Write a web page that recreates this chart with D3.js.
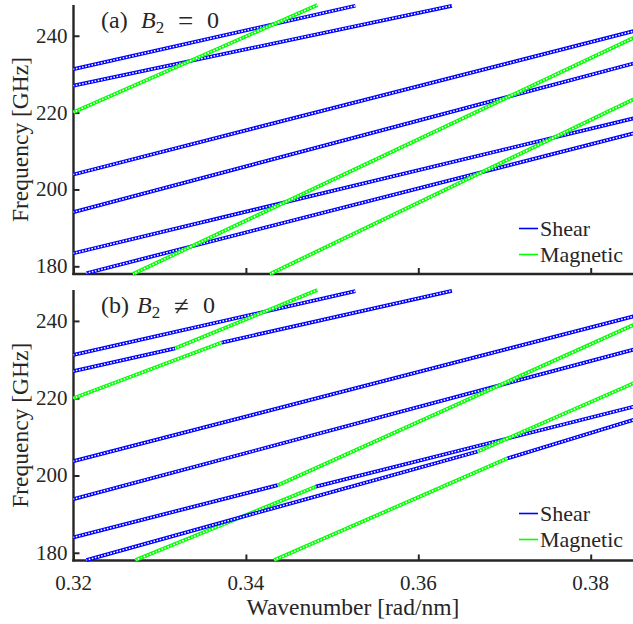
<!DOCTYPE html>
<html>
<head>
<meta charset="utf-8">
<script src="https://cdn.jsdelivr.net/npm/d3@7"></script>
<style>
  html, body { margin: 0; padding: 0; background: #fff; }
  svg { display: block; }
</style>
</head>
<body>
<svg id="chart" width="633" height="624" font-family="'Liberation Serif', 'Times New Roman', Times, serif"></svg>
<script>
// Axis limits and tick values
const kDomain = [0.32, 0.385];
const fDomain = [178, 248];
const kTicks = [0.32, 0.34, 0.36, 0.38];
const fTicks = [180, 200, 220, 240];
const modeNames = ["Shear", "Magnetic"];
const modeColors = ["#0000ff", "#00ff00"];

// Panel (a), B2 = 0: uncoupled branches, each given by its end points [k, f]
const shearA = [
  [[0.3200, 231.3], [0.3527, 247.8]],
  [[0.3200, 227.0], [0.3639, 247.8]],
  [[0.3200, 203.9], [0.3850, 241.2]],
  [[0.3200, 194.1], [0.3850, 232.8]],
  [[0.3200, 183.4], [0.3850, 218.5]],
  [[0.3215, 178.2], [0.3850, 214.6]]
];
const magneticA = [
  [[0.3200, 220.1], [0.3483, 248.0]],
  [[0.3269, 178.0], [0.3850, 239.5]],
  [[0.3428, 178.0], [0.3850, 223.5]]
];

// Panel (b), B2 != 0: coupled branches, vertices k / f and the dominant mode of each segment
const branchK = [
  [0.3200, 0.3527],
  [0.3200, 0.3318, 0.3483],
  [0.3200, 0.3372, 0.3639],
  [0.3200, 0.3850],
  [0.3200, 0.3850],
  [0.3200, 0.3437, 0.3850],
  [0.3272, 0.3481, 0.3850],
  [0.3215, 0.3669, 0.3850],
  [0.3433, 0.3703, 0.3850]
];
const branchF = [
  [231.2, 247.7],
  [227.0, 232.9, 248.0],
  [220.0, 234.4, 247.8],
  [203.7, 241.2],
  [193.9, 232.6],
  [184.0, 197.5, 239.0],
  [178.1, 197.1, 217.8],
  [178.1, 206.2, 223.9],
  [178.1, 204.4, 214.4]
];
const branchMode = [
  ["Shear"],
  ["Shear", "Magnetic"],
  ["Magnetic", "Shear"],
  ["Shear"],
  ["Shear"],
  ["Shear", "Magnetic"],
  ["Magnetic", "Shear"],
  ["Shear", "Magnetic"],
  ["Magnetic", "Shear"]
];

const svg = d3.select("#chart");
const axisColor = "#262626";
const textColor = "#262626";
const x = d3.scaleLinear().domain(kDomain).range([73.5, 633.8]);

const panels = [
  { top: 5, bottom: 274, label: "(a)", rel: "=", bx: 141, showX: false },
  { top: 290, bottom: 560.5, label: "(b)", rel: "\u2260", bx: 137, showX: true }
];

// segments for each panel: {p0, p1, mode}
const segsA = [];
shearA.forEach(s => segsA.push({ p0: s[0], p1: s[1], mode: "Shear" }));
magneticA.forEach(s => segsA.push({ p0: s[0], p1: s[1], mode: "Magnetic" }));
const segsB = [];
branchK.forEach((ks, i) => {
  for (let j = 0; j < ks.length - 1; j++) {
    segsB.push({ p0: [ks[j], branchF[i][j]], p1: [ks[j + 1], branchF[i][j + 1]], mode: branchMode[i][j] });
  }
});
const panelSegs = [segsA, segsB];

panels.forEach((P, pi) => {
  const y = d3.scaleLinear().domain(fDomain).range([P.bottom, P.top]);
  const g = svg.append("g");

  // y axis: ticks pointing inward
  const yAxis = d3.axisRight(y).tickValues(fTicks).tickSize(6).tickFormat("");
  const ya = g.append("g").attr("transform", `translate(${x(kDomain[0])},0)`).call(yAxis);
  ya.select(".domain").remove();
  ya.selectAll(".tick line").attr("stroke", axisColor).attr("stroke-width", 2);
  g.selectAll(".ylab").data(fTicks).join("text")
    .attr("x", x(kDomain[0]) - 6).attr("y", d => y(d) + 7)
    .attr("text-anchor", "end").attr("fill", textColor).attr("font-size", 21).text(d => d);

  // x axis: ticks pointing inward
  const xAxis = d3.axisTop(x).tickValues(kTicks).tickSize(6).tickFormat("");
  const xa = g.append("g").attr("transform", `translate(0,${P.bottom})`).call(xAxis);
  xa.select(".domain").remove();
  xa.selectAll(".tick line").attr("stroke", axisColor).attr("stroke-width", 2);
  if (P.showX) {
    g.selectAll(".xlab").data(kTicks).join("text")
      .attr("x", d => x(d)).attr("y", P.bottom + 29)
      .attr("text-anchor", "middle").attr("fill", textColor).attr("font-size", 21).text(d => d.toFixed(2));
  }

  // spines
  g.append("line").attr("x1", x(kDomain[0])).attr("x2", x(kDomain[0]))
    .attr("y1", P.top).attr("y2", P.bottom + 1).attr("stroke", axisColor).attr("stroke-width", 2.4);
  g.append("line").attr("x1", x(kDomain[0]) - 1.2).attr("x2", 633)
    .attr("y1", P.bottom).attr("y2", P.bottom).attr("stroke", axisColor).attr("stroke-width", 2.4);

  // y label
  g.append("text")
    .attr("transform", `translate(28,${(P.top + P.bottom) / 2}) rotate(-90)`)
    .attr("text-anchor", "middle").attr("fill", textColor).attr("font-size", 23.5).text("Frequency [GHz]");

  // dispersion branches drawn as chains of open markers
  const segs = panelSegs[pi];
  const sg = g.append("g");
  segs.forEach(s => {
    const c = modeColors[modeNames.indexOf(s.mode)];
    const x1 = x(s.p0[0]), y1 = y(s.p0[1]), x2 = x(s.p1[0]), y2 = y(s.p1[1]);
    sg.append("line").attr("x1", x1).attr("y1", y1).attr("x2", x2).attr("y2", y2)
      .attr("stroke", c).attr("stroke-width", 3.8);
    sg.append("line").attr("x1", x1).attr("y1", y1).attr("x2", x2).attr("y2", y2)
      .attr("stroke", "#ffffff").attr("stroke-width", 1.5)
      .attr("stroke-dasharray", "1.6 1.6").attr("stroke-dashoffset", 0.8);
  });

  // panel label: (a) B_2 = 0 / (b) B_2 != 0
  const ty = P.top + 23;
  const t = g.append("text").attr("y", ty).attr("fill", textColor).attr("font-size", 24);
  t.append("tspan").attr("x", 101).text(P.label);
  t.append("tspan").attr("x", P.bx).attr("font-style", "italic").text("B");
  t.append("tspan").attr("dy", 5).attr("font-size", 17).text("2");
  t.append("tspan").attr("x", P.bx + 37).attr("dy", -3).attr("font-size", 27).text(P.rel);
  t.append("tspan").attr("x", P.bx + 66).attr("dy", -2).text("0");

  // legend
  const lg = g.append("g");
  modeNames.forEach((m, i) => {
    const ly = P.top + 223.5 + i * 26;
    lg.append("line").attr("x1", 519).attr("x2", 538).attr("y1", ly).attr("y2", ly)
      .attr("stroke", modeColors[i]).attr("stroke-width", 1.6);
    lg.append("text").attr("x", 540).attr("y", ly + 7).attr("fill", textColor).attr("font-size", 22).text(m);
  });
});

// x label
svg.append("text").attr("x", 353).attr("y", 615).attr("text-anchor", "middle")
  .attr("fill", textColor).attr("font-size", 23.5).text("Wavenumber [rad/nm]");
</script>
</body>
</html>
